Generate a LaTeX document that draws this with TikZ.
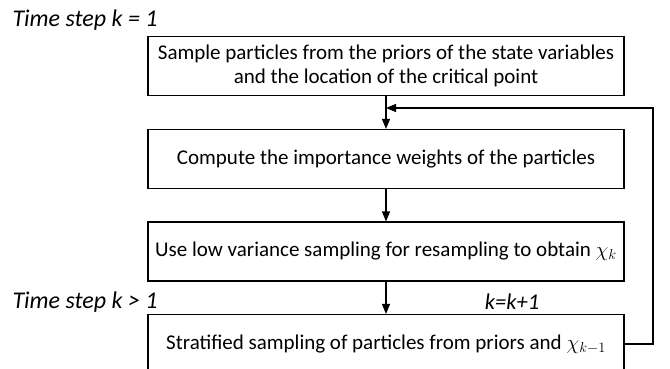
\documentclass[tikz,border=0pt]{standalone}
\usepackage{fontspec}
\setmainfont{Carlito}
\usepackage{tikz}
\usetikzlibrary{arrows.meta}

\tikzset{
  stepbox/.style={draw, line width=1.1pt, minimum width=476pt, minimum height=59pt,
    align=center, inner sep=0pt, font=\fontsize{21}{24}\selectfont},
  steplabel/.style={inner sep=0pt, font=\fontsize{24}{28}\selectfont\itshape}
}

\begin{document}
\begin{tikzpicture}[x=1pt,y=1pt,>={Triangle[length=10pt,width=8pt]},line width=1.1pt]
\useasboundingbox (0,0) rectangle (670,-368);
%%%BOXES
\node[stepbox] (sample) at (386,-66) {Sample particles from the priors of the state variables\\ and the location of the critical point};
\node[stepbox] (weights) at (386,-159) {Compute the importance weights of the particles};
\node[stepbox] (resample) at (386,-251.5) {Use low variance sampling for resampling to obtain $\chi_k$};
\node[stepbox] (strat) at (386,-344) {Stratified sampling of particles from priors and $\chi_{k-1}$};
%%%LABELS
\node[steplabel, anchor=base west] (first) at (12,-26) {Time step k = 1};
\node[steplabel, anchor=base west] (later) at (12,-308) {Time step k {\textgreater} 1};
\node[steplabel, anchor=base, font=\fontsize{22.5}{26}\selectfont\itshape] (incr) at (512,-309) {k=k+1};
%%%ARROWS
\coordinate (join) at (386,-108);
\coordinate (turn) at (653,-108);
\draw[->] (sample) -- (weights);
\draw[->] (weights) -- (resample);
\draw[->] (resample) -- (strat);
\draw[->] (strat.east) -| (turn) -- (join);
\end{tikzpicture}
\end{document}
